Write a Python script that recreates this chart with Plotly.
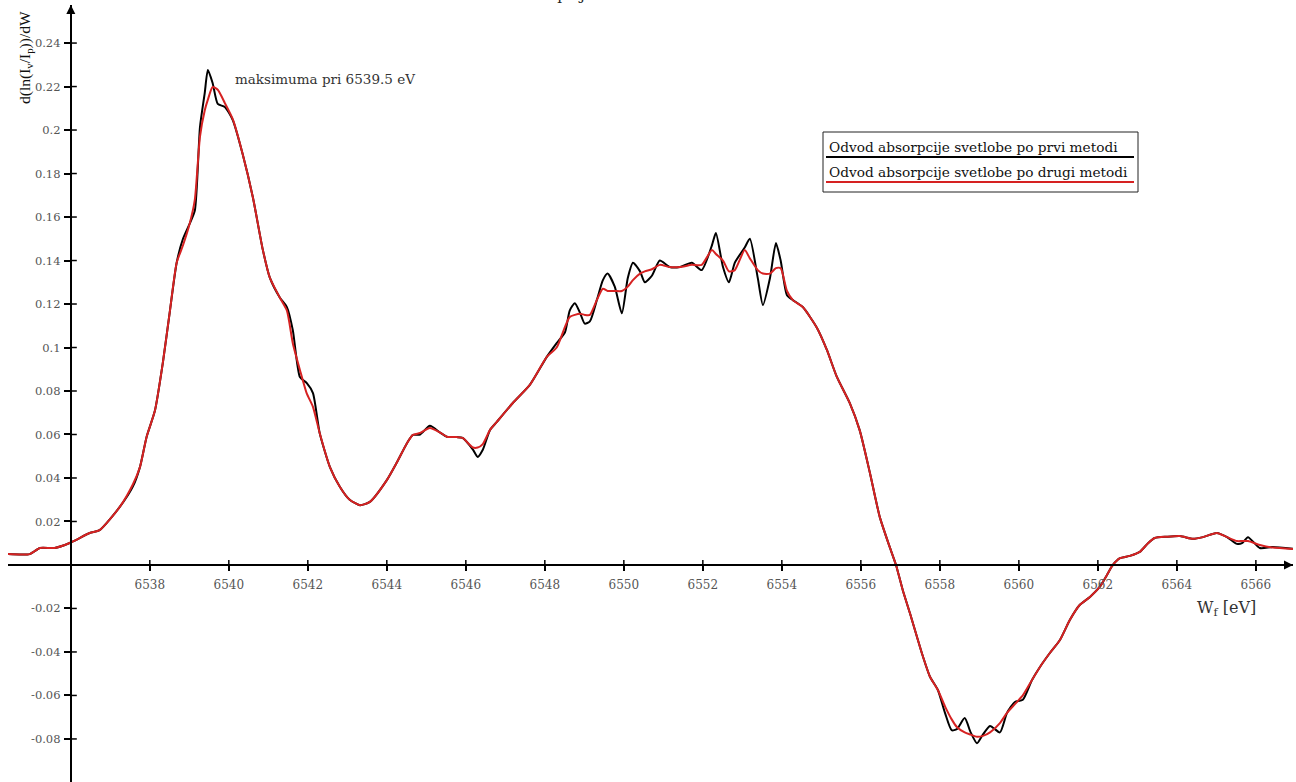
import plotly.graph_objects as go

# ---- data ----
energy = [6534.41, 6534.96, 6535.22, 6535.59, 6535.97, 6536.48, 6536.73, 6537.24, 6537.57, 6537.75,
          6537.92, 6538.13, 6538.33, 6538.51, 6538.68, 6538.84, 6539.01, 6539.14, 6539.27, 6539.39,
          6539.47, 6539.59, 6539.72, 6539.90, 6540.10, 6540.35, 6540.61, 6540.86, 6541.04, 6541.29,
          6541.47, 6541.62, 6541.80, 6541.97, 6542.13, 6542.30, 6542.56, 6542.81, 6543.06, 6543.32,
          6543.57, 6544.00, 6544.25, 6544.51, 6544.66, 6544.84, 6545.09, 6545.34, 6545.52, 6545.77,
          6545.92, 6546.18, 6546.30, 6546.43, 6546.61, 6546.78, 6547.19, 6547.62, 6548.05, 6548.30,
          6548.51, 6548.63, 6548.76, 6548.89, 6549.01, 6549.14, 6549.32, 6549.47, 6549.59, 6549.77,
          6549.95, 6550.10, 6550.23, 6550.41, 6550.53, 6550.71, 6550.91, 6551.16, 6551.42, 6551.72,
          6551.97, 6552.23, 6552.33, 6552.51, 6552.66, 6552.81, 6553.06, 6553.19, 6553.39, 6553.52,
          6553.70, 6553.85, 6553.97, 6554.13, 6554.28, 6554.53, 6554.89, 6555.14, 6555.39, 6555.72,
          6555.97, 6556.23, 6556.48, 6556.73, 6556.89, 6557.06, 6557.24, 6557.42, 6557.57, 6557.75,
          6557.95, 6558.13, 6558.30, 6558.43, 6558.63, 6558.78, 6558.94, 6559.09, 6559.27, 6559.52,
          6559.70, 6559.90, 6560.10, 6560.33, 6560.53, 6560.78, 6561.04, 6561.29, 6561.54, 6561.80,
          6562.05, 6562.23, 6562.38, 6562.56, 6562.81, 6563.06, 6563.27, 6563.44, 6563.75, 6564.08,
          6564.41, 6564.66, 6565.01, 6565.27, 6565.52, 6565.65, 6565.80, 6566.10, 6566.43, 6566.94]

first_method = [0.005, 0.005, 0.0078, 0.0078, 0.0101, 0.0147, 0.016, 0.0267, 0.036, 0.045,
                0.059, 0.071, 0.093, 0.117, 0.139, 0.150, 0.157, 0.163, 0.2014, 0.217,
                0.2276, 0.2216, 0.212, 0.2106, 0.2046, 0.189, 0.169, 0.145, 0.132, 0.123,
                0.1186, 0.108, 0.0864, 0.0837, 0.079, 0.0607, 0.045, 0.036, 0.030, 0.0275,
                0.029, 0.039, 0.047, 0.056, 0.0598, 0.060, 0.064, 0.061, 0.059, 0.0588,
                0.0584, 0.053, 0.0497, 0.053, 0.062, 0.0657, 0.0745, 0.0828, 0.0957, 0.102,
                0.107, 0.117, 0.1204, 0.116, 0.111, 0.112, 0.122, 0.131, 0.134, 0.128,
                0.1157, 0.132, 0.139, 0.135, 0.130, 0.133, 0.140, 0.137, 0.137, 0.139,
                0.1356, 0.147, 0.1526, 0.137, 0.130, 0.139, 0.146, 0.150, 0.132, 0.1195,
                0.132, 0.148, 0.140, 0.124, 0.1218, 0.1186, 0.109, 0.0989, 0.0866, 0.0744,
                0.062, 0.0423, 0.022, 0.0083, 0.0, -0.0115, -0.022, -0.033, -0.042, -0.0514,
                -0.0575, -0.068, -0.076, -0.0755, -0.0704, -0.077, -0.082, -0.078, -0.074, -0.077,
                -0.068, -0.063, -0.062, -0.053, -0.047, -0.0406, -0.0345, -0.0253, -0.0184, -0.0147,
                -0.010, -0.0046, 0.0, 0.0031, 0.0042, 0.006, 0.010, 0.0124, 0.013, 0.0133,
                0.012, 0.0128, 0.0147, 0.0128, 0.0097, 0.010, 0.0128, 0.0078, 0.0083, 0.0074]

second_method = [0.005, 0.005, 0.0078, 0.0078, 0.0101, 0.0147, 0.016, 0.0267, 0.037, 0.045,
                 0.059, 0.071, 0.093, 0.117, 0.139, 0.147, 0.157, 0.168, 0.197, 0.209,
                 0.214, 0.2198, 0.2185, 0.2124, 0.205, 0.189, 0.169, 0.145, 0.132, 0.123,
                 0.117, 0.102, 0.0897, 0.079, 0.0727, 0.0607, 0.045, 0.036, 0.030, 0.0275,
                 0.029, 0.039, 0.047, 0.056, 0.0598, 0.0607, 0.063, 0.061, 0.059, 0.0588,
                 0.0584, 0.054, 0.054, 0.0556, 0.062, 0.0657, 0.0745, 0.0828, 0.0957, 0.100,
                 0.1095, 0.114, 0.115, 0.1155, 0.115, 0.115, 0.122, 0.127, 0.126, 0.126,
                 0.126, 0.128, 0.131, 0.134, 0.135, 0.136, 0.138, 0.137, 0.137, 0.138,
                 0.138, 0.1448, 0.143, 0.140, 0.135, 0.1356, 0.1448, 0.141, 0.1356, 0.134,
                 0.134, 0.1365, 0.1365, 0.126, 0.1218, 0.1186, 0.109, 0.0989, 0.0866, 0.0744,
                 0.062, 0.0423, 0.022, 0.0083, 0.0, -0.0115, -0.022, -0.033, -0.042, -0.0514,
                 -0.0575, -0.065, -0.071, -0.0745, -0.077, -0.078, -0.079, -0.0786, -0.077, -0.0727,
                 -0.068, -0.064, -0.060, -0.053, -0.047, -0.0406, -0.0345, -0.0253, -0.0184, -0.0147,
                 -0.010, -0.0046, 0.0, 0.0031, 0.0042, 0.006, 0.010, 0.0124, 0.013, 0.0133,
                 0.012, 0.0128, 0.0147, 0.0128, 0.011, 0.011, 0.011, 0.0092, 0.008, 0.0074]

assert len(energy) == len(first_method) == len(second_method)

x_ticks = [6538, 6540, 6542, 6544, 6546, 6548, 6550, 6552, 6554, 6556, 6558, 6560, 6562, 6564, 6566]
x_tick_labels = [str(v) for v in x_ticks]
y_ticks = [-0.08, -0.06, -0.04, -0.02, 0.02, 0.04, 0.06, 0.08, 0.1, 0.12, 0.14, 0.16, 0.18, 0.2, 0.22, 0.24]
y_tick_labels = ["-0.08", "-0.06", "-0.04", "-0.02", "0.02", "0.04", "0.06", "0.08", "0.1",
                 "0.12", "0.14", "0.16", "0.18", "0.2", "0.22", "0.24"]

name_first = "Odvod absorpcije svetlobe po prvi metodi"
name_second = "Odvod absorpcije svetlobe po drugi metodi"
peak_label = "maksimuma pri 6539.5 eV"
peak_pos = (6540.10, 0.2234)

# ---- layout geometry ----
W, H = 1296, 782
ML, MR, MT, MB = 8, 3, 5, 0
x_range = [6534.41, 6566.94]
y_range = [-0.0998, 0.2575]
x_origin = 6536.0
y_origin = 0.0
SERIF = "DejaVu Serif"
TIMES = "Liberation Serif"


def px_x(p):
    return (p - ML) / (W - ML - MR)


def px_y(p):
    return (H - MB - p) / (H - MT - MB)


fig = go.Figure()

fig.add_trace(go.Scatter(x=energy, y=first_method, mode="lines", name=name_first,
                         line=dict(color="black", width=2, shape="spline", smoothing=0.6),
                         showlegend=False))
fig.add_trace(go.Scatter(x=energy, y=second_method, mode="lines", name=name_second,
                         line=dict(color="rgb(214,34,34)", width=2, shape="spline", smoothing=0.6),
                         showlegend=False))

# arrow heads at the axis ends
fig.add_trace(go.Scatter(x=[x_range[1]], y=[y_origin], mode="markers",
                         marker=dict(symbol="arrow-right", size=9, color="black"),
                         showlegend=False, hoverinfo="skip", cliponaxis=False))
fig.add_trace(go.Scatter(x=[x_origin], y=[y_range[1]], mode="markers",
                         marker=dict(symbol="arrow-up", size=9, color="black"),
                         showlegend=False, hoverinfo="skip", cliponaxis=False))

x_pos = (y_origin - y_range[0]) / (y_range[1] - y_range[0])
y_pos = (x_origin - x_range[0]) / (x_range[1] - x_range[0])

fig.update_layout(
    width=W, height=H,
    margin=dict(l=ML, r=MR, t=MT, b=MB),
    paper_bgcolor="white", plot_bgcolor="white",
    font=dict(family=SERIF, color="#444"),
    xaxis=dict(range=x_range, showgrid=False, zeroline=False, showline=True,
               linecolor="black", linewidth=2, anchor="free", position=x_pos,
               tickmode="array", tickvals=x_ticks, ticktext=x_tick_labels,
               ticks="outside", ticklen=5, tickwidth=1.5, tickcolor="black",
               ticklabelstandoff=4,
               tickfont=dict(family=SERIF, size=12, color="#555")),
    yaxis=dict(range=y_range, showgrid=False, zeroline=False, showline=True,
               linecolor="black", linewidth=2, anchor="free", position=y_pos,
               tickmode="array", tickvals=y_ticks, ticktext=y_tick_labels,
               ticks="outside", ticklen=6, tickwidth=1.5, tickcolor="black",
               ticklabelstandoff=1,
               tickfont=dict(family=SERIF, size=11.5, color="#555")),
)

annotations = [
    dict(x=peak_pos[0], y=peak_pos[1], xref="x", yref="y", text=peak_label, showarrow=False,
         xanchor="left", yanchor="middle", font=dict(family=SERIF, size=13.5, color="#333")),
    dict(x=px_x(25), y=px_y(58), xref="paper", yref="paper", textangle=-90,
         text="d(ln(I<sub>v</sub>/I<sub>p</sub>))/dW", showarrow=False,
         xanchor="center", yanchor="middle", font=dict(family=TIMES, size=15.5, color="#111")),
    dict(x=px_x(1226), y=px_y(608), xref="paper", yref="paper",
         text="W<sub>f</sub> [eV]", showarrow=False,
         xanchor="center", yanchor="middle", font=dict(family=SERIF, size=16, color="#333")),
    dict(x=px_x(561), y=px_y(6), xref="paper", yref="paper",
         text="Odvod absorpcije svetlobe", showarrow=False,
         xanchor="center", yanchor="bottom", font=dict(family=SERIF, size=15, color="#222")),
    dict(x=px_x(827), y=px_y(147), xref="paper", yref="paper", text=name_first, showarrow=False,
         xanchor="left", yanchor="middle", font=dict(family=SERIF, size=13.7, color="#111")),
    dict(x=px_x(827), y=px_y(172), xref="paper", yref="paper", text=name_second, showarrow=False,
         xanchor="left", yanchor="middle", font=dict(family=SERIF, size=13.7, color="#111")),
]
fig.update_layout(annotations=annotations)

shapes = [
    dict(type="rect", xref="paper", yref="paper", x0=px_x(823), x1=px_x(1138), y0=px_y(132), y1=px_y(192),
         line=dict(color="#222", width=1), fillcolor="rgba(0,0,0,0)"),
    dict(type="line", xref="paper", yref="paper", x0=px_x(826), x1=px_x(1134), y0=px_y(157), y1=px_y(157),
         line=dict(color="black", width=2)),
    dict(type="line", xref="paper", yref="paper", x0=px_x(826), x1=px_x(1134), y0=px_y(182), y1=px_y(182),
         line=dict(color="rgb(214,34,34)", width=2)),
]
# inner halves of the tick marks (the axes draw the outer halves)
for t in x_ticks:
    shapes.append(dict(type="line", xref="x", yref="y", x0=t, x1=t,
                       ysizemode="pixel", yanchor=y_origin, y0=0, y1=5,
                       line=dict(color="black", width=1.5)))
for t in y_ticks:
    shapes.append(dict(type="line", xref="x", yref="y", y0=t, y1=t,
                       xsizemode="pixel", xanchor=x_origin, x0=0, x1=6,
                       line=dict(color="black", width=1.5)))
fig.update_layout(shapes=shapes)

fig.write_html("out.html")
